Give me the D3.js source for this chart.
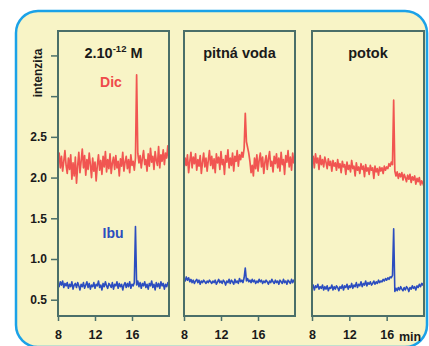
<!DOCTYPE html>
<html lang="cs">
<head>
<meta charset="UTF-8">
<title>Dic / Ibu</title>
<script src="https://d3js.org/d3.v7.min.js"></script>
<style>
  html, body { margin: 0; padding: 0; background: #fff; }
  svg { display: block; font-family: "Liberation Sans", Arial, sans-serif; font-weight: bold; }
</style>
</head>
<body>
<script>
// time grid: 8 .. 20 min, step 0.125 min (97 samples per trace)
const step = 0.125;
const tStart = 8;

const panelTitles = ["2.10", "pitná voda", "potok"];
const xTicks = [8, 12, 16];
const yTicks = [0.5, 1.0, 1.5, 2.0, 2.5, 3.0, 3.5];
const yLabelled = [0.5, 1.0, 1.5, 2.0, 2.5];

// Dic (red) traces
const dic1 = [2.22,2.30,2.12,2.26,2.08,2.20,2.33,2.15,2.05,2.24,
  2.10,2.28,1.98,2.18,2.02,2.25,1.93,2.14,2.31,2.06,
  2.20,2.35,2.12,2.27,2.03,2.22,2.10,2.30,2.16,2.00,
  2.24,2.08,2.19,1.96,2.15,2.28,2.09,2.21,2.04,2.26,
  2.13,2.32,2.07,2.22,2.11,2.29,2.05,2.18,2.25,2.10,
  2.27,2.12,2.20,2.02,2.23,2.14,2.31,2.08,2.19,2.26,
  2.11,2.22,2.06,2.28,2.15,2.20,2.09,2.24,3.26,2.30,
  2.18,2.27,2.12,2.24,2.33,2.16,2.22,2.08,2.29,2.14,
  2.36,2.19,2.26,2.10,2.32,2.21,2.15,2.38,2.12,2.28,
  2.20,2.34,2.16,2.30,2.24,2.39,2.22];
const dic2 = [2.10,2.24,2.15,2.28,2.06,2.20,2.31,2.12,2.25,2.17,
  2.29,2.09,2.22,2.14,2.27,2.05,2.19,2.30,2.13,2.24,
  2.08,2.21,2.33,2.15,2.26,2.11,2.23,2.06,2.29,2.18,
  2.25,2.10,2.32,2.16,2.22,2.04,2.27,2.19,2.34,2.12,
  2.24,2.15,2.30,2.08,2.26,2.20,2.33,2.14,2.28,2.22,
  2.31,2.25,2.36,2.79,2.44,2.37,2.30,2.20,2.06,2.15,
  2.02,2.24,2.11,2.28,2.08,2.21,2.30,2.13,2.25,2.05,
  2.19,2.27,2.10,2.23,2.32,2.14,2.20,2.07,2.26,2.17,
  2.29,2.12,2.24,2.08,2.31,2.16,2.22,2.04,2.27,2.19,
  2.33,2.13,2.25,2.09,2.30,2.18,2.26];
const dic3 = [2.15,2.26,2.12,2.29,2.18,2.24,2.10,2.27,2.16,2.22,
  2.13,2.25,2.19,2.11,2.23,2.15,2.20,2.08,2.21,2.14,
  2.18,2.09,2.22,2.12,2.17,2.06,2.20,2.13,2.16,2.04,
  2.19,2.10,2.15,2.07,2.21,2.11,2.14,2.02,2.18,2.09,
  2.13,2.05,2.17,2.10,2.14,2.01,2.16,2.08,2.12,2.04,
  2.15,2.09,2.12,1.99,2.14,2.07,2.11,2.03,2.13,2.08,
  2.12,2.05,2.14,2.09,2.13,2.11,2.17,2.14,2.19,2.16,
  2.95,2.08,2.02,2.07,1.99,2.05,2.01,2.06,1.97,2.04,
  2.00,1.95,2.03,1.98,2.04,1.94,2.01,1.97,2.02,1.92,
  1.99,1.95,2.00,1.91,1.96,1.93,1.89];

// Ibu (blue) traces
const ibu1 = [0.70,0.66,0.72,0.68,0.73,0.65,0.70,0.67,0.71,0.64,
  0.69,0.66,0.72,0.63,0.68,0.70,0.65,0.71,0.67,0.62,
  0.69,0.66,0.71,0.64,0.68,0.72,0.65,0.70,0.63,0.68,
  0.66,0.71,0.64,0.69,0.67,0.73,0.65,0.68,0.62,0.70,
  0.66,0.72,0.67,0.64,0.70,0.68,0.65,0.71,0.63,0.69,
  0.67,0.72,0.64,0.70,0.66,0.69,0.62,0.68,0.71,0.65,
  0.70,0.66,0.72,0.64,0.69,0.67,0.71,1.40,0.68,0.73,
  0.66,0.71,0.64,0.70,0.67,0.72,0.65,0.69,0.63,0.70,
  0.67,0.73,0.65,0.69,0.62,0.71,0.66,0.70,0.64,0.72,
  0.67,0.70,0.63,0.69,0.66,0.71,0.68];
const ibu2 = [0.76,0.73,0.78,0.74,0.77,0.72,0.75,0.71,0.74,0.70,
  0.73,0.75,0.71,0.74,0.69,0.73,0.71,0.74,0.72,0.70,
  0.73,0.71,0.74,0.72,0.70,0.73,0.71,0.74,0.69,0.72,
  0.75,0.71,0.73,0.70,0.74,0.72,0.68,0.73,0.71,0.75,
  0.70,0.74,0.72,0.69,0.75,0.71,0.73,0.70,0.76,0.72,
  0.74,0.71,0.77,0.89,0.73,0.76,0.72,0.74,0.71,0.75,
  0.72,0.74,0.70,0.73,0.71,0.75,0.72,0.74,0.70,0.73,
  0.71,0.74,0.72,0.69,0.73,0.71,0.75,0.72,0.70,0.74,
  0.71,0.73,0.69,0.74,0.72,0.70,0.75,0.71,0.73,0.69,
  0.74,0.72,0.70,0.75,0.71,0.74,0.72];
const ibu3 = [0.64,0.68,0.62,0.67,0.65,0.69,0.63,0.66,0.64,0.68,
  0.62,0.66,0.63,0.67,0.61,0.65,0.64,0.68,0.62,0.66,
  0.63,0.67,0.65,0.61,0.66,0.64,0.68,0.62,0.67,0.65,
  0.69,0.63,0.67,0.65,0.70,0.64,0.68,0.66,0.71,0.65,
  0.69,0.67,0.72,0.66,0.70,0.68,0.73,0.67,0.71,0.69,
  0.72,0.68,0.70,0.73,0.69,0.72,0.70,0.74,0.71,0.73,
  0.72,0.75,0.73,0.76,0.74,0.77,0.75,0.78,0.77,0.80,
  1.37,0.60,0.64,0.61,0.65,0.62,0.66,0.63,0.61,0.65,
  0.62,0.66,0.64,0.60,0.65,0.63,0.67,0.64,0.66,0.62,
  0.67,0.65,0.69,0.66,0.70,0.68,0.72];

const dicSeries = [dic1, dic2, dic3];
const ibuSeries = [ibu1, ibu2, ibu3];

const W = 429, H = 346;
const panelX = [[58, 169], [184, 295], [312, 424]];
const panelTop = 31, panelBottom = 316;
const frame = "#4b6f69";

const svg = d3.select("body").append("svg")
  .attr("width", W).attr("height", H);

// rounded yellow card with blue border
svg.append("rect")
  .attr("x", 16).attr("y", 11)
  .attr("width", 411).attr("height", 336)
  .attr("rx", 22).attr("ry", 22)
  .attr("fill", "#f8f4c6")
  .attr("stroke", "#1ba2e8").attr("stroke-width", 2.5);

const y = d3.scaleLinear().domain([0.3, 3.8]).range([panelBottom, panelTop]);

panelX.forEach(function(px, i) {
  const x = d3.scaleLinear().domain([8, 20]).range(px);
  const g = svg.append("g");

  const line = d3.line()
    .x((d, k) => x(tStart + k * step))
    .y(d => y(d));

  g.append("path")
    .datum(dicSeries[i])
    .attr("d", line)
    .attr("fill", "none")
    .attr("stroke", "#f04444")
    .attr("stroke-width", 1.7)
    .attr("stroke-opacity", 0.9)
    .attr("stroke-linejoin", "round");

  g.append("path")
    .datum(ibuSeries[i])
    .attr("d", line)
    .attr("fill", "none")
    .attr("stroke", "#2c4dbf")
    .attr("stroke-width", 1.6)
    .attr("stroke-linejoin", "round");

  // x axis
  const xAxis = g.append("g")
    .attr("transform", `translate(0,${panelBottom})`)
    .call(d3.axisBottom(x).tickValues(xTicks).tickSize(5).tickSizeOuter(0).tickPadding(9));
  xAxis.select(".domain").remove();
  xAxis.selectAll("line").attr("stroke", frame).attr("stroke-width", 1.5);
  xAxis.selectAll("text")
    .attr("fill", "#1a1a1a")
    .style("font-size", "12.5px").style("font-weight", "bold")
    .style("font-family", "'Liberation Sans', Arial, sans-serif");

  // panel frame
  g.append("rect")
    .attr("x", px[0]).attr("y", panelTop)
    .attr("width", px[1] - px[0]).attr("height", panelBottom - panelTop)
    .attr("fill", "none")
    .attr("stroke", frame).attr("stroke-width", 2);

  // title
  const title = g.append("text")
    .attr("x", (px[0] + px[1]) / 2)
    .attr("y", 58)
    .attr("text-anchor", "middle")
    .attr("fill", "#1a1a1a")
    .style("font-size", "14.5px");
  title.append("tspan").text(panelTitles[i]);
  if (i === 0) {
    title.append("tspan").attr("dy", -6).style("font-size", "9.5px").text("-12");
    title.append("tspan").attr("dy", 6).text(" M");
  }
});

// y axis on the first panel
const yAxis = svg.append("g")
  .attr("transform", `translate(${panelX[0][0]},0)`)
  .call(d3.axisLeft(y).tickValues(yTicks).tickSize(7).tickPadding(4)
    .tickFormat(d => yLabelled.includes(d) ? d3.format(".1f")(d) : ""));
yAxis.select(".domain").remove();
yAxis.selectAll("line").attr("stroke", frame).attr("stroke-width", 1.5);
yAxis.selectAll("text")
  .attr("fill", "#1a1a1a")
  .style("font-size", "12px").style("font-weight", "bold")
  .style("font-family", "'Liberation Sans', Arial, sans-serif");

svg.append("text")
  .attr("transform", "translate(42,73) rotate(-90)")
  .attr("text-anchor", "middle")
  .attr("fill", "#1a1a1a")
  .style("font-size", "12px")
  .text("intenzita");

svg.append("text")
  .attr("x", 399).attr("y", 341)
  .attr("fill", "#1a1a1a")
  .style("font-size", "12.5px")
  .text("min");

// series labels
svg.append("text")
  .attr("x", 111).attr("y", 87)
  .attr("text-anchor", "middle")
  .attr("fill", "#ef4a4a")
  .style("font-size", "14px")
  .text("Dic");

svg.append("text")
  .attr("x", 113).attr("y", 238)
  .attr("text-anchor", "middle")
  .attr("fill", "#2c4dbf")
  .style("font-size", "14px")
  .text("Ibu");
</script>
</body>
</html>
